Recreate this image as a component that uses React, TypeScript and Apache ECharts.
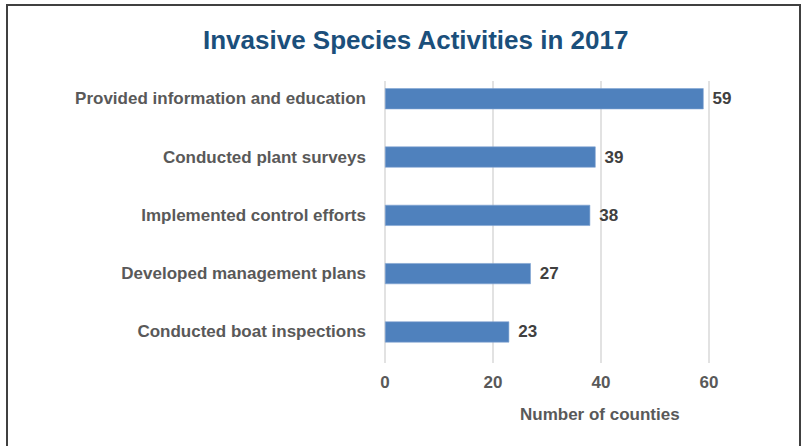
import React, { useEffect, useRef } from "react";
import * as echarts from "echarts";

const categories = [
  "Provided information and education",
  "Conducted plant surveys",
  "Implemented control efforts",
  "Developed management plans",
  "Conducted boat inspections",
];
const values = [59, 39, 38, 27, 23];
const xTicks = [0, 20, 40, 60];

const FONT = "'Liberation Sans', Arial, sans-serif";

export default function App() {
  const ref = useRef<HTMLDivElement>(null);
  useEffect(() => {
    if (!ref.current) return;
    const chart = echarts.init(ref.current, undefined, { renderer: "svg" });
    chart.setOption({
      animation: false,
      backgroundColor: "#ffffff",
      title: {
        text: "Invasive Species Activities in 2017",
        left: 198,
        top: 22,
        textStyle: { color: "#1b4f7b", fontSize: 26, fontWeight: "bold", fontFamily: FONT },
      },
      grid: [
        { left: 385, width: 324, top: 69.6, height: 291.5 },
        { left: 385, width: 324, top: 81, height: 282 },
      ],
      xAxis: [
        {
          gridIndex: 0, type: "value", min: 0, max: 60, interval: 20,
          axisLine: { show: false }, axisTick: { show: false }, axisLabel: { show: false },
          splitLine: { show: false },
        },
        {
          gridIndex: 1, type: "value", min: xTicks[0], max: xTicks[xTicks.length - 1], interval: 20,
          axisLine: { show: false }, axisTick: { show: false },
          axisLabel: { color: "#595959", fontSize: 17, fontWeight: "bold", fontFamily: FONT, margin: 11 },
          splitLine: { show: true, lineStyle: { color: "#d9d9d9", width: 1.5 } },
        },
      ],
      yAxis: [
        {
          gridIndex: 0, type: "category", data: categories, inverse: true,
          axisLine: { show: false }, axisTick: { show: false },
          axisLabel: { color: "#595959", fontSize: 17, fontWeight: "bold", fontFamily: FONT, margin: 19 },
        },
        {
          gridIndex: 1, type: "value", min: 0, max: 1,
          axisLine: { show: false }, axisTick: { show: false }, axisLabel: { show: false },
          splitLine: { show: false },
        },
      ],
      series: [
        {
          type: "bar",
          xAxisIndex: 0,
          yAxisIndex: 0,
          data: values,
          barWidth: 21,
          itemStyle: { color: "#4f81bd", borderColor: "#7fa3d1", borderWidth: 0.6 },
          label: {
            show: true, position: "right", distance: 9,
            color: "#404040", fontSize: 17, fontWeight: "bold", fontFamily: FONT,
          },
        },
      ],
      graphic: [
        {
          type: "text",
          left: 600 - 80, top: 406,
          style: {
            text: "Number of counties",
            fill: "#595959", fontSize: 17, fontWeight: "bold", fontFamily: FONT,
          },
        },
        {
          type: "rect",
          shape: { x: 7, y: 5, width: 793, height: 460 },
          style: { fill: "none", stroke: "#404040", lineWidth: 2 },
          silent: true,
        },
      ],
    });
    return () => chart.dispose();
  }, []);
  return (
    <div
      ref={ref}
      style={{ position: "fixed", left: 0, top: 0, width: 806, height: 446 }}
    />
  );
}
